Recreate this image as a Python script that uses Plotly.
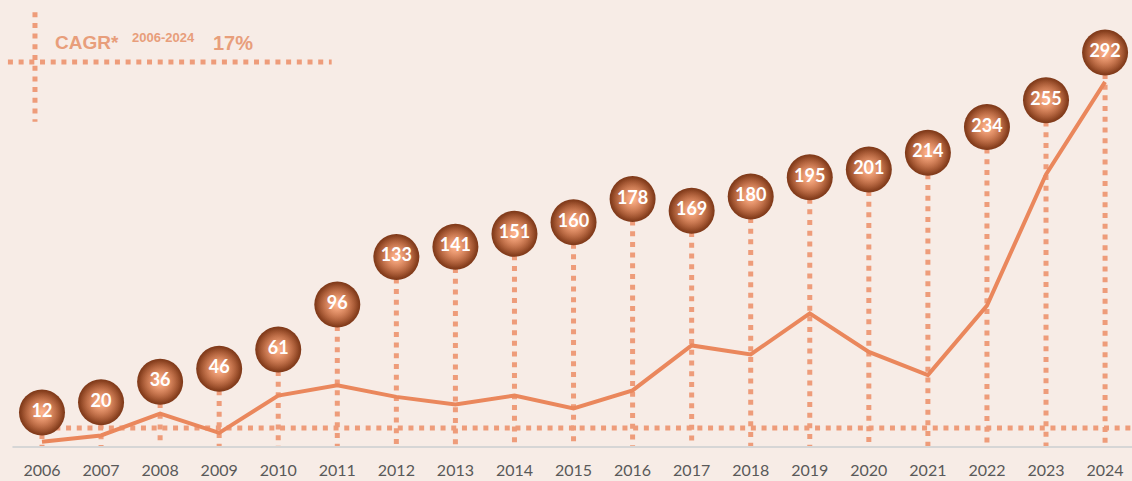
import plotly.graph_objects as go

years = list(range(2006, 2025))
bubble_values = [12, 20, 36, 46, 61, 96, 133, 141, 151, 160, 178, 169, 180, 195, 201, 214, 234, 255, 292]
line_values = [4, 9, 26, 11, 40, 48, 39, 33, 40, 30, 44, 79, 72, 104, 74, 56, 110, 212, 284]
tick_labels = [str(y) for y in years]

BG = "#F7ECE6"
DOT = "#EE9C7A"
LINE = "#EA875C"
TXT = "#E89E7B"

y_min, y_max = -14.8, 325.1

# vertical drop lines from each bubble to the axis
drop_x, drop_y = [], []
for yr, v in zip(years, bubble_values):
    drop_x += [yr, yr, None]
    drop_y += [v, y_min, None]

fig = go.Figure()

fig.add_trace(go.Scatter(
    x=drop_x, y=drop_y, mode="lines", hoverinfo="skip",
    line=dict(color=DOT, width=5, dash="5px,5.7px"),
))

fig.add_trace(go.Scatter(
    x=years, y=line_values, yaxis="y2", mode="lines",
    line=dict(color=LINE, width=4),
))

# sphere body (radial gradient: gradient.color is the centre colour)
fig.add_trace(go.Scatter(
    x=years, y=bubble_values, mode="markers",
    marker=dict(size=46, color="#7E3818",
                gradient=dict(type="radial", color="#F8A072"),
                line=dict(width=0)),
    hoverinfo="skip",
))
# highlight
fig.add_trace(go.Scatter(
    x=years, y=bubble_values, mode="markers+text",
    text=[str(v) for v in bubble_values], textposition="middle center",
    textfont=dict(family="Lato", size=18, color="white", weight="bold"),
    marker=dict(size=42, color="rgba(226,128,84,0)",
                gradient=dict(type="radial", color="rgba(255,186,150,0.8)"),
                line=dict(width=0)),
))

shapes = [
    # zero reference line
    dict(type="line", xref="paper", yref="y", x0=0.03, x1=1, y0=0, y1=0,
         line=dict(color=DOT, width=5, dash="5px,5.7px"), layer="below"),
    # axis line
    dict(type="line", xref="x", yref="paper", x0=2005.5, x1=2024.6, y0=0, y1=0,
         line=dict(color="#D6D6D6", width=2)),
    # CAGR crosshair
    dict(type="line", xref="paper", yref="paper", x0=0.0309, x1=0.0309, y0=0.995, y1=0.744,
         line=dict(color=DOT, width=5, dash="5px,5.7px")),
    dict(type="line", xref="paper", yref="paper", x0=0.007, x1=0.293, y0=0.881, y1=0.881,
         line=dict(color=DOT, width=5, dash="5px,5.7px")),
]

annotations = [
    dict(text="<b>CAGR*</b>", x=0.0470, y=0.9245, xref="paper", yref="paper",
         xanchor="left", yanchor="middle", showarrow=False,
         font=dict(family="Liberation Sans", size=19, color=TXT)),
    dict(text="<b>2006-2024</b>", x=0.1145, y=0.936, xref="paper", yref="paper",
         xanchor="left", yanchor="middle", showarrow=False,
         font=dict(family="Liberation Sans", size=13, color=TXT)),
    dict(text="<b>17%</b>", x=0.1860, y=0.9245, xref="paper", yref="paper",
         xanchor="left", yanchor="middle", showarrow=False,
         font=dict(family="Liberation Sans", size=20, color=TXT)),
]

fig.update_layout(
    width=1132, height=481,
    margin=dict(l=0, r=0, t=10, b=34),
    paper_bgcolor=BG, plot_bgcolor=BG,
    showlegend=False,
    shapes=shapes, annotations=annotations,
    xaxis=dict(range=[2005.289, 2024.456], tickvals=years, ticktext=tick_labels,
               showgrid=False, zeroline=False, showline=False, ticks="",
               ticklabelstandoff=12,
               tickfont=dict(family="Lato", size=16, color="#595959")),
    yaxis=dict(range=[y_min, y_max], visible=False, showgrid=False),
    yaxis2=dict(range=[0, y_max - y_min], overlaying="y", visible=False, showgrid=False),
)

fig.write_html("out.html", config={"displayModeBar": False},
               post_script="document.body.style.margin='0';")
